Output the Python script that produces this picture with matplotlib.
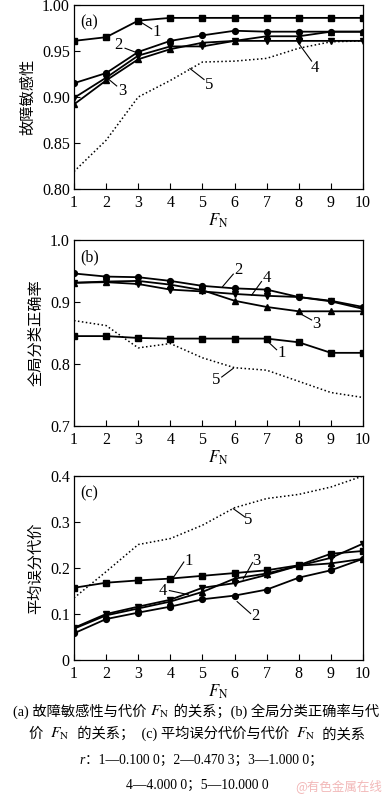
import matplotlib
matplotlib.use("Agg")
import matplotlib.pyplot as plt
from matplotlib.offsetbox import TextArea, HPacker, AnnotationBbox

plt.rcParams['font.family'] = ['Liberation Serif', 'Noto Sans CJK SC']
plt.rcParams['mathtext.fontset'] = 'stix'

FN = [1, 2, 3, 4, 5, 6, 7, 8, 9, 10]
x_ticks = [1, 2, 3, 4, 5, 6, 7, 8, 9, 10]

# (a) fault sensitivity
a1 = [0.961, 0.965, 0.983, 0.986, 0.986, 0.986, 0.986, 0.986, 0.986, 0.986]
a2 = [0.915, 0.926, 0.949, 0.961, 0.967, 0.972, 0.971, 0.971, 0.971, 0.971]
a3 = [0.892, 0.918, 0.941, 0.952, 0.959, 0.961, 0.966, 0.966, 0.971, 0.971]
a4 = [0.899, 0.921, 0.945, 0.955, 0.955, 0.961, 0.961, 0.961, 0.961, 0.961]
a5 = [0.819, 0.853, 0.900, 0.918, 0.938, 0.939, 0.942, 0.953, 0.960, 0.961]

# (b) global classification accuracy
b1 = [0.845, 0.845, 0.842, 0.841, 0.841, 0.841, 0.841, 0.835, 0.818, 0.818]
b2 = [0.946, 0.941, 0.940, 0.934, 0.926, 0.922, 0.920, 0.908, 0.902, 0.892]
b3 = [0.931, 0.933, 0.934, 0.928, 0.919, 0.902, 0.892, 0.885, 0.885, 0.885]
b4 = [0.931, 0.932, 0.929, 0.920, 0.917, 0.913, 0.910, 0.908, 0.901, 0.889]
b5 = [0.870, 0.862, 0.826, 0.833, 0.810, 0.794, 0.790, 0.772, 0.754, 0.746]

# (c) average misclassification cost
c1 = [0.157, 0.168, 0.173, 0.177, 0.183, 0.189, 0.195, 0.206, 0.231, 0.237]
c2 = [0.058, 0.089, 0.103, 0.116, 0.132, 0.140, 0.153, 0.179, 0.195, 0.220]
c3 = [0.068, 0.097, 0.112, 0.127, 0.148, 0.177, 0.188, 0.205, 0.210, 0.220]
c4 = [0.070, 0.100, 0.116, 0.131, 0.157, 0.167, 0.185, 0.205, 0.222, 0.253]
c5 = [0.135, 0.192, 0.251, 0.264, 0.293, 0.331, 0.351, 0.360, 0.376, 0.400]

ylabels = ['故障敏感性', '全局分类正确率', '平均误分代价']
panel_tags = ['(a)', '(b)', '(c)']
ylims = [(0.80, 1.00), (0.7, 1.0), (0.0, 0.4)]
yticks = [[0.80, 0.85, 0.90, 0.95, 1.00], [0.7, 0.8, 0.9, 1.0], [0, 0.1, 0.2, 0.3, 0.4]]
yticklabels = [['0.80', '0.85', '0.90', '0.95', '1.00'], ['0.7', '0.8', '0.9', '1.0'],
               ['0', '0.1', '0.2', '0.3', '0.4']]

# curve labels: (text, text x, text y, leader start x, y, leader end x, y)
labels_a = [('1', 3.57, 0.971, 3.42, 0.974, 3.05, 0.982),
            ('2', 2.38, 0.957, 2.59, 0.953, 2.97, 0.948),
            ('3', 2.51, 0.907, 2.33, 0.912, 2.02, 0.921),
            ('4', 8.50, 0.931, 8.40, 0.939, 7.96, 0.960),
            ('5', 5.21, 0.913, 5.05, 0.919, 4.61, 0.931)]
labels_b = [('2', 6.11, 0.952, 5.96, 0.945, 5.63, 0.925),
            ('4', 6.99, 0.938, 6.84, 0.933, 6.53, 0.911),
            ('3', 8.55, 0.865, 8.40, 0.871, 7.98, 0.883),
            ('1', 7.46, 0.818, 7.31, 0.823, 7.00, 0.838),
            ('5', 5.42, 0.774, 5.60, 0.779, 5.96, 0.793)]
labels_c = [('1', 4.56, 0.215, 4.42, 0.213, 4.09, 0.179),
            ('3', 6.68, 0.215, 6.56, 0.212, 6.27, 0.176),
            ('4', 3.78, 0.150, 3.97, 0.151, 4.56, 0.142),
            ('2', 6.66, 0.096, 6.50, 0.101, 6.08, 0.127),
            ('5', 6.42, 0.304, 6.32, 0.311, 5.96, 0.329)]

data = [(a1, a2, a3, a4, a5), (b1, b2, b3, b4, b5), (c1, c2, c3, c4, c5)]
all_labels = [labels_a, labels_b, labels_c]

W, H = 391, 796
fig = plt.figure(figsize=(W / 100, H / 100), dpi=100)

boxes = [(5, 189), (240, 426), (476, 660)]
left_px, right_px = 74, 363
markers = ['s', 'o', '^', 'v']

for i in range(3):
    top, bot = boxes[i]
    ax = fig.add_axes([left_px / W, 1 - bot / H, (right_px - left_px) / W, (bot - top) / H])
    s1, s2, s3, s4, s5 = data[i]
    for s, m in zip((s1, s2, s3, s4), markers):
        ax.plot(FN, s, color='black', lw=1.3, marker=m, ms=4.2, mfc='black', mec='black')
    ax.plot(FN, s5, color='black', lw=1.1, ls=(0, (1, 1.6)))
    ax.set_xlim(1, 10)
    ax.set_ylim(*ylims[i])
    ax.set_xticks(x_ticks)
    ax.set_xticklabels([str(v) for v in x_ticks])
    ax.set_yticks(yticks[i])
    ax.set_yticklabels(yticklabels[i])
    ax.tick_params(direction='in', length=4, width=0.8, labelsize=11.5, pad=3,
                   top=False, right=False)
    ax.tick_params(axis='x', pad=4)
    for sp in ax.spines.values():
        sp.set_linewidth(0.9)
    ax.set_ylabel(ylabels[i], fontsize=11, family=['Noto Sans CJK SC'], labelpad=4)
    ax.set_xlabel(r'$F_{\mathrm{N}}$', fontsize=12, labelpad=1)
    ax.text(0.02, 0.95, panel_tags[i], transform=ax.transAxes, fontsize=11.5,
            ha='left', va='top')
    for (t, tx, ty, sx, sy, ex, ey) in all_labels[i]:
        ax.plot([sx, ex], [sy, ey], color='black', lw=0.8)
        ax.text(tx, ty, t, fontsize=12, ha='center', va='center')

# caption
cap_font = ['Liberation Serif', 'Noto Sans CJK SC']


def plain(s, fs):
    return TextArea(s, textprops=dict(fontsize=fs, family=cap_font))


def fnote(fs):
    return TextArea(r'$F_{\mathrm{N}}$', textprops=dict(fontsize=fs + 1))


def italic(s, fs):
    return TextArea(s, textprops=dict(fontsize=fs, family=cap_font, style='italic'))


f1 = 10.3
f2 = 9.8
lines = [
    [plain('(a) 故障敏感性与代价 ', f1), fnote(f1), plain(' 的关系；(b) 全局分类正确率与代', f1)],
    [plain('价  ', f1), fnote(f1), plain('  的关系；  (c) 平均误分代价与代价  ', f1), fnote(f1),
     plain('  的关系', f1)],
    [italic('r', f2), plain('：1—0.100 0；2—0.470 3；3—1.000 0；', f2)],
    [plain('4—4.000 0；5—10.000 0', f2)],
]
centers = [(196, 712), (197, 734), (201, 760), (197, 785)]
for parts, (cx, cy) in zip(lines, centers):
    pk = HPacker(children=parts, align='baseline', pad=0, sep=0)
    ab = AnnotationBbox(pk, (cx / W, 1 - cy / H), xycoords='figure fraction',
                        frameon=False, box_alignment=(0.5, 0.5), pad=0)
    fig.add_artist(ab)

fig.text(295 / W, 1 - 786 / H, '@有色金属在线', fontsize=9, color='#f2b8b8',
         family=['Noto Sans CJK SC'], ha='left', va='center')

fig.savefig('out.png', dpi=100)
